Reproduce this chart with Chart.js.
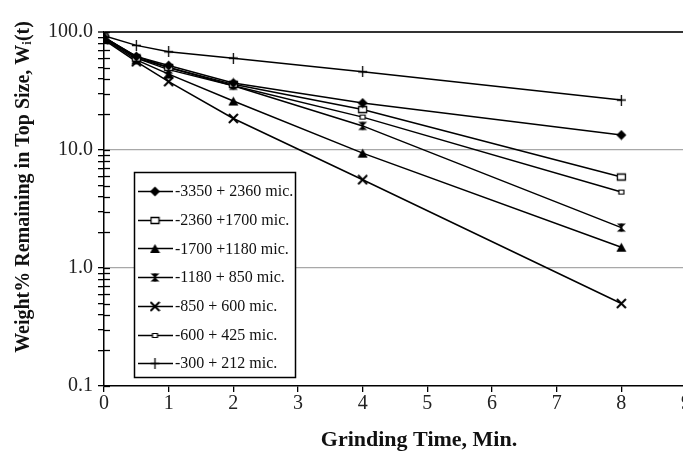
<!DOCTYPE html>
<html>
<head>
<meta charset="utf-8">
<script src="https://cdn.jsdelivr.net/npm/chart.js@4/dist/chart.umd.min.js"></script>
<style>
  html, body { margin: 0; padding: 0; background: #fff; overflow: hidden; }
  #wrap { width: 700px; height: 455px; }
</style>
</head>
<body>
<div id="wrap"><canvas id="chart" width="700" height="455"></canvas></div>
<script>
// grinding time, min.
var times = [0, 0.5, 1, 2, 4, 8];

var sizeLabels = [
    '-3350 + 2360 mic.',
    '-2360 +1700 mic.',
    '-1700 +1180 mic.',
    '-1180 + 850 mic.',
    '-850 + 600 mic.',
    '-600 + 425 mic.',
    '-300 + 212 mic.'
];

// weight % remaining in top size
var w3350 = [90, 62, 52, 37, 25, 13.4];
var w2360 = [91, 60, 50, 36, 22, 5.9];
var w1700 = [88, 58, 44, 26, 9.4, 1.5];
var w1180 = [89, 60, 48, 35, 16, 2.2];
var w850 = [86, 56, 38, 18.5, 5.6, 0.5];
var w600 = [90, 62, 50, 35, 19, 4.4];
var w300 = [93, 77, 68, 60, 46, 26.5];

var xTicks = [0, 1, 2, 3, 4, 5, 6, 7, 8, 9];
var yMajorTicks = [0.1, 1, 10, 100];

var xTitle = 'Grinding Time, Min.';
var yTitle = 'Weight% Remaining in Top Size, W\u1d62(t)';

var serif = "'Liberation Serif', 'Times New Roman', serif";

function makeMarker(kind) {
    var c = document.createElement('canvas');
    var s = 11;
    c.width = s; c.height = s;
    var g = c.getContext('2d');
    var m = s / 2;
    g.fillStyle = '#000';
    g.strokeStyle = '#000';
    g.beginPath();
    if (kind === 'diamond') {
        g.moveTo(m, 0.5); g.lineTo(s - 0.5, m); g.lineTo(m, s - 0.5); g.lineTo(0.5, m);
        g.closePath(); g.fill();
    } else if (kind === 'square') {
        g.lineWidth = 1.3;
        g.fillStyle = '#fff';
        g.rect(1.5, 2.5, 8, 6); g.fill(); g.stroke();
    } else if (kind === 'triangle') {
        g.moveTo(m, 1); g.lineTo(s - 0.5, s - 1); g.lineTo(0.5, s - 1);
        g.closePath(); g.fill();
    } else if (kind === 'hourglass') {
        g.moveTo(1, 1.5); g.lineTo(s - 1, 1.5); g.lineTo(m, m);
        g.closePath(); g.fill();
        g.beginPath();
        g.moveTo(1, s - 1.5); g.lineTo(s - 1, s - 1.5); g.lineTo(m, m);
        g.closePath(); g.fill();
        g.fillRect(m - 1, 1.5, 2, s - 3);
    } else if (kind === 'x') {
        g.lineWidth = 2;
        g.moveTo(1, 1); g.lineTo(s - 1, s - 1);
        g.moveTo(s - 1, 1); g.lineTo(1, s - 1);
        g.stroke();
    } else if (kind === 'smallsquare') {
        g.lineWidth = 1.2;
        g.fillStyle = '#fff';
        g.rect(3, 3.5, 5, 4); g.fill(); g.stroke();
    } else if (kind === 'plus') {
        g.lineWidth = 1.3;
        g.moveTo(m, 0); g.lineTo(m, s);
        g.moveTo(1, m); g.lineTo(s - 1, m);
        g.stroke();
    }
    return c;
}

var seriesValues = [w3350, w2360, w1700, w1180, w850, w600, w300];
var markerKinds = ['diamond', 'square', 'triangle', 'hourglass', 'x', 'smallsquare', 'plus'];

var datasets = [];
for (var i = 0; i < seriesValues.length; ++i) {
    var pts = [];
    for (var j = 0; j < times.length; ++j) {
        pts.push({ x: times[j], y: seriesValues[i][j] });
    }
    datasets.push({
        label: sizeLabels[i],
        data: pts,
        borderColor: '#000',
        borderWidth: 1.5,
        pointStyle: makeMarker(markerKinds[i]),
        pointRadius: 5,
        tension: 0,
        fill: false
    });
}

// minor ticks for the log axis
var yAllTicks = [];
for (var d = 0; d < yMajorTicks.length; ++d) {
    var base = yMajorTicks[d];
    yAllTicks.push(base);
    if (d < yMajorTicks.length - 1) {
        for (var k = 2; k <= 9; ++k) yAllTicks.push(base * k);
    }
}

function isMajor(v) {
    for (var i = 0; i < yMajorTicks.length; ++i) {
        if (Math.abs(v - yMajorTicks[i]) < 1e-9) return true;
    }
    return false;
}

// tick marks that cross the y axis
var innerTicks = {
    id: 'innerTicks',
    afterDatasetsDraw: function (chart) {
        var ctx = chart.ctx;
        var y = chart.scales.y;
        var x0 = chart.chartArea.left;
        ctx.save();
        ctx.strokeStyle = '#000';
        ctx.lineWidth = 1.3;
        for (var i = 0; i < yAllTicks.length; ++i) {
            var py = Math.round(y.getPixelForValue(yAllTicks[i])) + 0.5;
            ctx.beginPath();
            ctx.moveTo(x0, py);
            ctx.lineTo(x0 + 6, py);
            ctx.stroke();
        }
        ctx.restore();
    }
};

// axis titles, placed off-centre like the original
var axisTitles = {
    id: 'axisTitles',
    afterDraw: function (chart) {
        var ctx = chart.ctx;
        ctx.save();
        ctx.fillStyle = '#111';
        ctx.textAlign = 'center';
        ctx.textBaseline = 'middle';
        ctx.font = 'bold 22px ' + serif;
        ctx.fillText(xTitle, 419, 440);
        ctx.translate(24, 187);
        ctx.rotate(-Math.PI / 2);
        ctx.font = 'bold 20px ' + serif;
        ctx.fillText(yTitle, 0, 0);
        ctx.restore();
    }
};

// boxed legend inside the plot
var boxLegend = {
    id: 'boxLegend',
    afterDraw: function (chart) {
        var ctx = chart.ctx;
        var left = 134, top = 172, w = 161, h = 205;
        ctx.save();
        ctx.fillStyle = '#fff';
        ctx.fillRect(left, top, w, h);
        ctx.strokeStyle = '#000';
        ctx.lineWidth = 1.5;
        ctx.strokeRect(left + 0.5, top + 0.5, w, h);
        ctx.font = '16px ' + serif;
        ctx.textBaseline = 'middle';
        ctx.fillStyle = '#111';
        var ds = chart.data.datasets;
        for (var i = 0; i < ds.length; ++i) {
            var cy = top + 19 + i * 28.7;
            ctx.beginPath();
            ctx.lineWidth = 1.5;
            ctx.moveTo(138, Math.round(cy) + 0.5);
            ctx.lineTo(173, Math.round(cy) + 0.5);
            ctx.stroke();
            var img = ds[i].pointStyle;
            ctx.drawImage(img, 155 - img.width / 2, Math.round(cy) - img.height / 2 + 0.5);
            ctx.fillText(ds[i].label, 175, cy + 1);
        }
        ctx.restore();
    }
};

var ctx = document.getElementById('chart').getContext('2d');
var chart = new Chart(ctx, {
    type: 'line',
    data: { datasets: datasets },
    plugins: [innerTicks, boxLegend, axisTitles],
    options: {
        responsive: false,
        animation: false,
        devicePixelRatio: 1,
        layout: { padding: { top: 32, right: 14, left: 0, bottom: 0 } },
        plugins: {
            legend: { display: false },
            tooltip: { enabled: false }
        },
        scales: {
            x: {
                type: 'linear',
                min: 0,
                max: 9,
                afterBuildTicks: function (scale) {
                    scale.ticks = xTicks.map(function (v) { return { value: v }; });
                },
                afterFit: function (scale) { scale.height = 69; },
                border: { color: '#000', width: 1.5 },
                grid: { drawOnChartArea: false, tickLength: 6, color: '#000', lineWidth: 1.3 },
                ticks: { color: '#222', padding: 0, font: { family: serif, size: 20 } }
            },
            y: {
                type: 'logarithmic',
                min: 0.1,
                max: 100,
                afterBuildTicks: function (scale) {
                    scale.ticks = yAllTicks.map(function (v) { return { value: v, major: isMajor(v) }; });
                },
                afterFit: function (scale) { scale.width = 104; },
                border: { color: '#000', width: 1.5 },
                grid: {
                    tickLength: 6,
                    tickColor: '#000',
                    tickWidth: 1.3,
                    color: function (c) {
                        var v = c.tick ? c.tick.value : 0;
                        if (Math.abs(v - 100) < 1e-6) return '#333';
                        if (Math.abs(v - 10) < 1e-6 || Math.abs(v - 1) < 1e-6) return '#a8a8a8';
                        return 'rgba(0,0,0,0)';
                    },
                    lineWidth: function (c) {
                        var v = c.tick ? c.tick.value : 0;
                        return Math.abs(v - 100) < 1e-6 ? 2 : 1.3;
                    }
                },
                ticks: {
                    autoSkip: false,
                    color: '#222',
                    padding: 5,
                    font: { family: serif, size: 20 },
                    callback: function (v) {
                        return isMajor(v) ? Number(v).toFixed(1) : '';
                    }
                }
            }
        }
    }
});
</script>
</body>
</html>
